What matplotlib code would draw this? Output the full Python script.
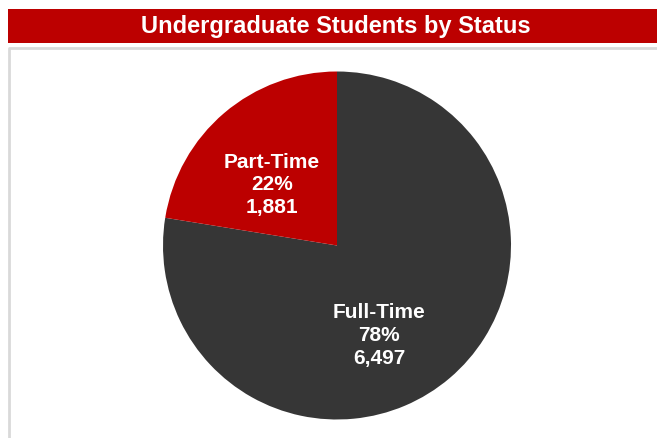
import matplotlib.pyplot as plt
from matplotlib.patches import Rectangle

title = "Undergraduate Students by Status"
categories = ["Full-Time", "Part-Time"]
counts = [6497, 1881]
colors = ["#363636", "#BC0000"]

W, H = 657, 438
fig = plt.figure(figsize=(W / 100, H / 100), dpi=100, facecolor="white")

# title bar and plot border, in pixel coords
bg = fig.add_axes([0, 0, 1, 1])
bg.set_xlim(0, W)
bg.set_ylim(H, 0)
bg.axis("off")
bg.add_patch(Rectangle((8, 9), W - 8, 34, facecolor="#BC0000", edgecolor="none"))
bg.text(336, 26.5, title, color="white", fontsize=17, fontweight="bold",
        family="Liberation Sans", ha="center", va="center")
bg.plot([8.5, 8.5, W], [H, 47.5, 47.5], color="#D9D9D9", lw=2, solid_capstyle="butt")

# pie axes: center (337, 245.5), radius 174 px
cx, cy, r = 337, 245.5, 174
ax = fig.add_axes([(cx - r) / W, (H - cy - r) / H, 2 * r / W, 2 * r / H])
ax.pie(counts, colors=colors, startangle=90, counterclock=False, radius=1,
       wedgeprops=dict(linewidth=0))
ax.set_xlim(-1, 1)
ax.set_ylim(-1, 1)
ax.set_aspect("equal")

total = sum(counts)
label_pos = [(0.241, -0.517), (-0.374, 0.348)]
for name, n, (x, y) in zip(categories, counts, label_pos):
    pct = round(100 * n / total)
    ax.text(x, y, f"{name}\n{pct}%\n{n:,}", color="white", fontsize=15,
            fontweight="bold", family="Liberation Sans", ha="center", va="center",
            linespacing=1.25)

fig.savefig("out.png", dpi=100)
